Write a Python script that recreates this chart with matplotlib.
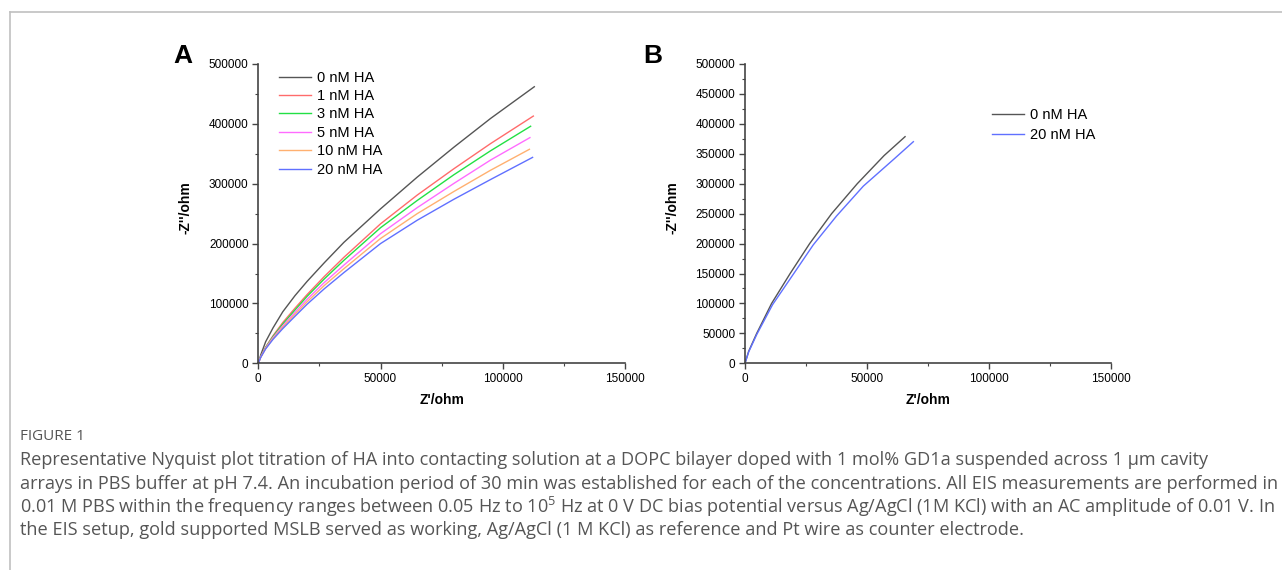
import matplotlib
matplotlib.use("Agg")
import matplotlib.pyplot as plt
from matplotlib.lines import Line2D
from matplotlib.ticker import MultipleLocator

plt.rcParams['font.family'] = ['Liberation Sans', 'DejaVu Sans']

# panel A: Nyquist curves (Z' , -Z'')
labels_a = ["0 nM HA", "1 nM HA", "3 nM HA", "5 nM HA", "10 nM HA", "20 nM HA"]
colors_a = ["#555555", "#ff6b6b", "#22e044", "#ff6bff", "#ffb070", "#6070ff"]

x_0nm = [0, 1000, 3000, 6000, 10000, 15000, 20000, 27000, 35000, 50000, 65000, 80000, 95000, 112900]
y_0nm = [0, 14000, 36000, 59000, 86000, 113000, 137000, 168000, 202000, 258000, 311000, 361000, 409000, 462000]
x_1nm = [0, 1000, 3000, 6000, 10000, 15000, 20000, 27000, 35000, 50000, 65000, 80000, 95000, 112500]
y_1nm = [0, 11000, 27000, 46000, 68000, 92000, 115000, 145000, 177000, 233000, 281000, 325000, 367000, 413000]
x_3nm = [0, 1000, 3000, 6000, 10000, 15000, 20000, 27000, 35000, 50000, 65000, 80000, 95000, 111400]
y_3nm = [0, 10800, 26300, 44600, 65500, 89000, 112000, 141000, 172000, 226500, 272000, 315000, 355000, 396000]
x_5nm = [0, 1000, 3000, 6000, 10000, 15000, 20000, 27000, 35000, 50000, 65000, 80000, 95000, 111100]
y_5nm = [0, 10500, 25400, 42800, 62600, 85000, 107000, 135000, 164000, 216500, 260000, 300500, 339500, 377000]
x_10nm = [0, 1000, 3000, 6000, 10000, 15000, 20000, 27000, 35000, 50000, 65000, 80000, 95000, 110900]
y_10nm = [0, 10300, 24700, 41400, 60200, 81800, 102900, 130000, 158000, 208500, 250000, 287000, 322500, 357500]
x_20nm = [0, 1000, 3000, 6000, 10000, 15000, 20000, 27000, 35000, 50000, 65000, 80000, 95000, 112200]
y_20nm = [0, 10000, 24000, 39900, 57900, 78500, 98800, 124500, 151500, 200000, 239000, 274000, 307000, 344000]

# panel B
labels_b = ["0 nM HA", "20 nM HA"]
colors_b = ["#555555", "#6070ff"]
xb_0nm = [0, 1500, 4800, 10900, 18500, 26500, 35500, 46000, 57000, 65600]
yb_0nm = [0, 20000, 50000, 100000, 150000, 200000, 250000, 300000, 347000, 378600]
xb_20nm = [0, 1500, 4800, 11300, 20000, 28000, 37500, 48500, 61000, 69000]
yb_20nm = [0, 19000, 48000, 98000, 150000, 198000, 246000, 296000, 341000, 370200]

caption_title = "FIGURE 1"
caption_lines = [
    "Representative Nyquist plot titration of HA into contacting solution at a DOPC bilayer doped with 1 mol% GD1a suspended across 1 \u00b5m cavity",
    "arrays in PBS buffer at pH 7.4. An incubation period of 30 min was established for each of the concentrations. All EIS measurements are performed in",
    "0.01 M PBS within the frequency ranges between 0.05 Hz to 10$^{\\mathregular{5}}$ Hz at 0 V DC bias potential versus Ag/AgCl (1M KCl) with an AC amplitude of 0.01 V. In",
    "the EIS setup, gold supported MSLB served as working, Ag/AgCl (1 M KCl) as reference and Pt wire as counter electrode.",
]

W, H = 1282, 570
fig = plt.figure(figsize=(W / 100, H / 100), dpi=100)


def px(x, y):
    return x / W, 1 - y / H


def style_axes(ax, ymajor, yminor):
    ax.set_xlim(0, 150000)
    ax.set_ylim(0, 500000)
    for s in ["top", "right"]:
        ax.spines[s].set_visible(False)
    for s in ["left", "bottom"]:
        ax.spines[s].set_color("#444444")
        ax.spines[s].set_linewidth(1.2)
    ax.xaxis.set_major_locator(MultipleLocator(50000))
    ax.xaxis.set_minor_locator(MultipleLocator(25000))
    ax.yaxis.set_major_locator(MultipleLocator(ymajor))
    ax.yaxis.set_minor_locator(MultipleLocator(yminor))
    ax.tick_params(which="major", direction="out", length=4, width=1, color="#444444",
                   labelsize=8.5, pad=3)
    ax.tick_params(which="minor", direction="out", length=2.5, width=0.8, color="#444444")
    ax.set_xlabel("Z'/ohm", fontsize=10, fontweight="bold", labelpad=6)
    ax.set_ylabel("-Z''/ohm", fontsize=10, fontweight="bold")


axA = fig.add_axes([258.3 / W, 1 - 363.3 / H, 366.7 / W, 299.3 / H])
series_a = [(x_0nm, y_0nm), (x_1nm, y_1nm), (x_3nm, y_3nm), (x_5nm, y_5nm),
            (x_10nm, y_10nm), (x_20nm, y_20nm)]
for (xs, ys), lab, c in zip(series_a, labels_a, colors_a):
    axA.plot(xs, ys, color=c, lw=1.0, label=lab)
style_axes(axA, 100000, 50000)
axA.yaxis.set_label_coords(-0.18, 0.52)
axA.legend(loc="upper left", bbox_to_anchor=(0.04, 0.997), frameon=False, fontsize=10.5,
           handlelength=2.2, handletextpad=0.4, labelspacing=0.30, borderaxespad=0)

axB = fig.add_axes([745 / W, 1 - 363.3 / H, 366 / W, 299.3 / H])
for (xs, ys), lab, c in zip([(xb_0nm, yb_0nm), (xb_20nm, yb_20nm)], labels_b, colors_b):
    axB.plot(xs, ys, color=c, lw=1.0, label=lab)
style_axes(axB, 50000, 25000)
axB.yaxis.set_label_coords(-0.178, 0.52)
axB.legend(loc="upper left", bbox_to_anchor=(0.66, 0.872), frameon=False, fontsize=10.5,
           handlelength=2.2, handletextpad=0.4, labelspacing=0.38, borderaxespad=0)

fig.text(*px(173, 56), "A", fontsize=19, fontweight="bold", va="center", ha="left")
fig.text(*px(643, 56), "B", fontsize=19, fontweight="bold", va="center", ha="left")

# page border
fig.add_artist(Line2D([10 / W, 1], [1 - 12 / H, 1 - 12 / H], color="#c0c0c0", lw=1.2))
fig.add_artist(Line2D([10 / W, 10 / W], [0, 1 - 12 / H], color="#c0c0c0", lw=1.2))

fig.text(*px(20, 437), caption_title, fontsize=11, color="#555555", va="center",
         ha="left", family="Open Sans")
cap_y = [460, 484, 507, 530]
cap_texts = []
for line, yy in zip(caption_lines, cap_y):
    t = fig.text(*px(20, yy), line, fontsize=10, color="#555555", va="center", ha="left",
                 family="Open Sans")
    cap_texts.append(t)

# fit caption width to the reference (second line spans ~1258 px)
renderer = fig.canvas.get_renderer()
w2 = cap_texts[1].get_window_extent(renderer).width
fs = 10 * 1258 / w2
for t in cap_texts:
    t.set_fontsize(fs)

fig.savefig("out.png", dpi=100)
